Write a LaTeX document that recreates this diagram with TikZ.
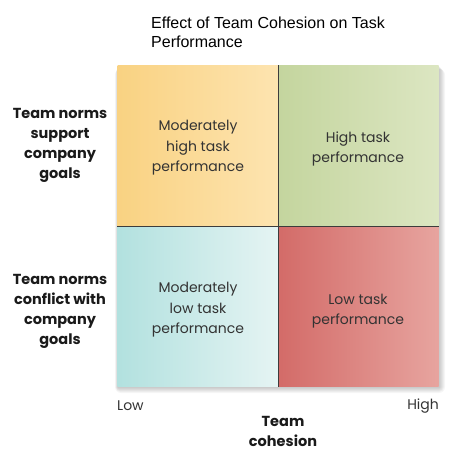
\documentclass[tikz,border=0pt]{standalone}
\usepackage{fontspec}
\setmainfont{Poppins}
\newfontfamily\titlefont{Liberation Sans}
\usetikzlibrary{positioning}
\definecolor{tlleft}{HTML}{F9D282}
\definecolor{tlright}{HTML}{FDE4B0}
\definecolor{trleft}{HTML}{C4D59E}
\definecolor{trright}{HTML}{DCE6C2}
\definecolor{blleft}{HTML}{B2E1DF}
\definecolor{blright}{HTML}{E5F4F3}
\definecolor{brleft}{HTML}{D36B68}
\definecolor{brright}{HTML}{E7A49F}
\definecolor{celltext}{HTML}{333333}
\definecolor{lbltext}{HTML}{1A1A1A}
\definecolor{divider}{HTML}{3C3C3C}

\begin{document}
\begin{tikzpicture}[
      x=1pt, y=-1pt,
      every node/.style={font=\fontsize{14}{20.5}\selectfont},
      cell/.style 2 args={shade, left color=#1, right color=#2,
                   minimum width=160.5pt, minimum height=160.5pt,
                   inner sep=0pt, align=center, text=celltext},
      celltxt/.style={align=center, text=celltext, inner sep=0pt},
      rowlbl/.style={align=center, text=lbltext,
                   font=\fontsize{14.5}{20}\selectfont\bfseries},
      axlbl/.style={text=celltext, inner sep=0pt},
    ]
    \useasboundingbox[fill=white] (0,0) rectangle (465,455);

    % soft shadow under the grid
    \foreach \s in {1,...,6}
      \fill[black, opacity=0.035, rounded corners=\s pt]
        (118-\s/2, 66+\s/2) rectangle (439+\s, 387+\s);

    \node[cell={tlleft}{tlright}] (c1) at (197.75, 145.75) {};
    \node[cell={trleft}{trright}] (c2) at (358.25, 145.75) {};
    \node[cell={blleft}{blright}] (c3) at (197.75, 306.25) {};
    \node[cell={brleft}{brright}] (c4) at (358.25, 306.25) {};

    \node[celltxt] (t1) at (198, 148) {Moderately\\high task\\performance};
    \node[celltxt] (t2) at (358, 149) {High task\\performance};
    \node[celltxt] (t3) at (198, 310) {Moderately\\low task\\performance};
    \node[celltxt] (t4) at (358, 311) {Low task\\performance};

    \draw[divider, line width=0.9pt] (c1.north east) -- (c3.south east);
    \draw[divider, line width=0.9pt] (c1.south west) -- (c2.south east);

    \node[anchor=north west, inner sep=0pt, align=left,
          font=\titlefont\fontsize{16}{19}\selectfont] (title) at (151, 17)
      {Effect of Team Cohesion on Task\\Performance};

    \node[rowlbl] (r1) at (60, 145) {Team norms\\support\\company\\goals};
    \node[rowlbl] (r2) at (60, 311) {Team norms\\conflict with\\company\\goals};

    \node[axlbl, anchor=west] (low) at (117, 406) {Low};
    \node[axlbl, anchor=east] (high) at (439, 406) {High};
    \node[rowlbl] (xlbl) at (283, 431) {Team\\cohesion};
  \end{tikzpicture}
\end{document}
